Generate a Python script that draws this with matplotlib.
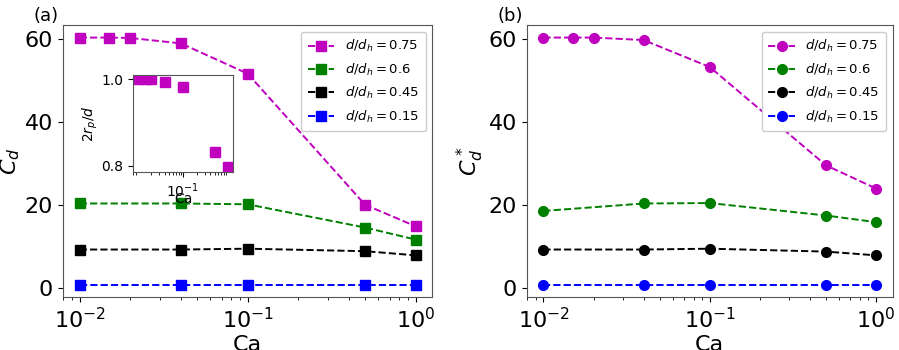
import numpy as np
import matplotlib
matplotlib.use("Agg")
from matplotlib import pyplot as plt

# Data
ca_075 = [0.01, 0.015, 0.02, 0.04, 0.1, 0.5, 1.0]
ca_other = [0.01, 0.04, 0.1, 0.5, 1.0]

cd_075 = [60.3, 60.3, 60.2, 58.9, 51.6, 20.0, 14.8]
cd_060 = [20.3, 20.3, 20.1, 14.5, 11.6]
cd_045 = [9.2, 9.2, 9.4, 8.8, 7.8]
cd_015 = [0.7, 0.7, 0.7, 0.7, 0.7]

cds_075 = [60.3, 60.3, 60.3, 59.7, 53.2, 29.5, 23.9]
cds_060 = [18.5, 20.3, 20.4, 17.4, 15.8]
cds_045 = [9.2, 9.2, 9.4, 8.7, 7.8]
cds_015 = [0.7, 0.7, 0.7, 0.7, 0.7]

inset_r = [1.0, 1.0, 1.0, 0.994, 0.982, 0.831, 0.796]

labels = [r"$d/d_h = 0.75$", r"$d/d_h = 0.6$", r"$d/d_h = 0.45$", r"$d/d_h = 0.15$"]
colors = ["m", "g", "k", "b"]

fig = plt.figure(figsize=(8.99, 3.5), dpi=100)

ax_a = fig.add_axes([0.070, 0.151, 0.411, 0.777])
ax_b = fig.add_axes([0.586, 0.151, 0.407, 0.777])


def draw_panel(ax, ys, marker, ylabel, tag):
    xs = [ca_075, ca_other, ca_other, ca_other]
    for x, y, c, lab in zip(xs, ys, colors, labels):
        ax.plot(x, y, ls="--", marker=marker, color=c, ms=7, lw=1.4, label=lab)
    ax.set_xscale("log")
    ax.set_yticks([0, 20, 40, 60])
    ax.tick_params(labelsize=16)
    ax.set_xlabel("Ca", fontsize=16, labelpad=2)
    ax.set_ylabel(ylabel, fontsize=16, labelpad=2)
    for s in ax.spines.values():
        s.set_color("#555555")
    ax.legend(loc="upper right", fontsize=9.5, handlelength=2.0, labelspacing=0.55,
              borderpad=0.5, framealpha=1.0)
    ax.text(-0.08, 1.0, tag, transform=ax.transAxes, fontsize=13, va="bottom")


draw_panel(ax_a, [cd_075, cd_060, cd_045, cd_015], "s", r"$C_d$", "(a)")
draw_panel(ax_b, [cds_075, cds_060, cds_045, cds_015], "o", r"$C_d^*$", "(b)")

# Inset in panel (a)
ax_in = fig.add_axes([0.148, 0.509, 0.111, 0.277])
ax_in.plot(ca_075, inset_r, ls="none", marker="s", color="m", ms=7)
ax_in.set_xscale("log")
ax_in.set_yticks([0.8, 1.0])
ax_in.set_xticks([0.1])
ax_in.tick_params(labelsize=10)
ax_in.set_xlabel("Ca", fontsize=10, labelpad=-6)
ax_in.set_ylabel(r"$2r_p/d$", fontsize=10, labelpad=1)
for s in ax_in.spines.values():
    s.set_color("#555555")

fig.savefig("out.png", dpi=100)
